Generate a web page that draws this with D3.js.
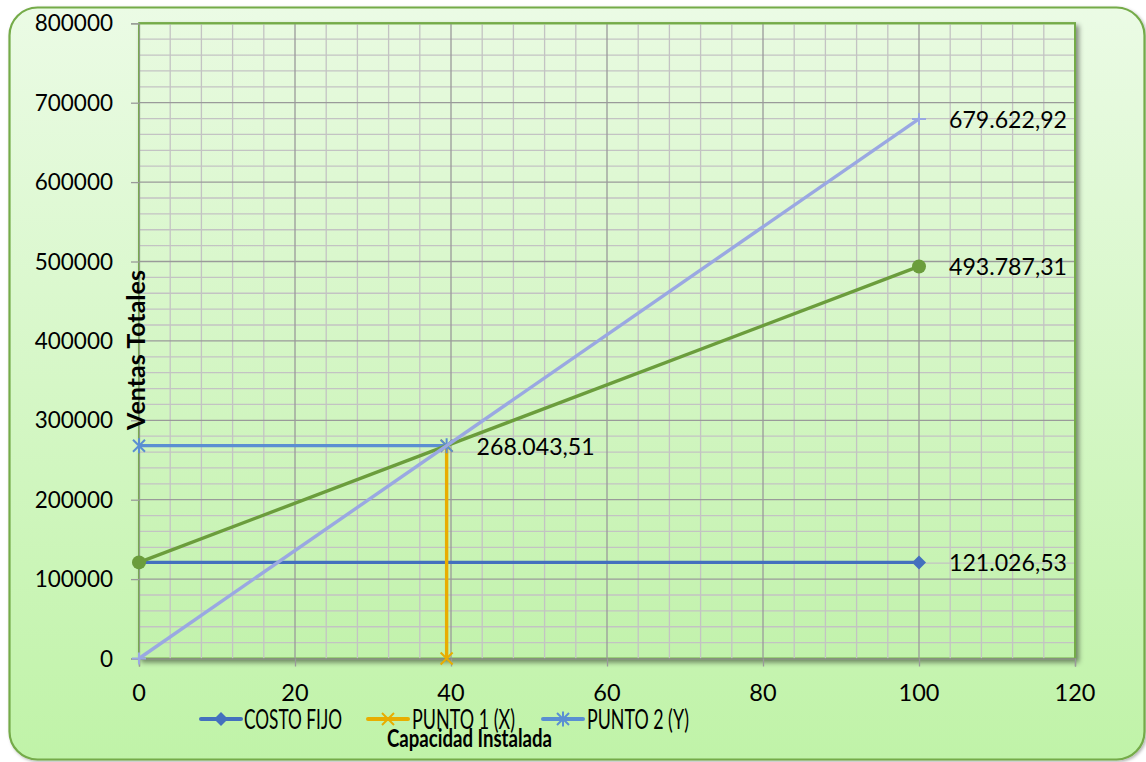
<!DOCTYPE html>
<html>
<head>
<meta charset="utf-8">
<script src="https://cdn.jsdelivr.net/npm/d3@7/dist/d3.min.js"></script>
<style>
  html, body { margin: 0; padding: 0; background: #ffffff; }
  svg { display: block; }
  text { font-family: Lato, "Open Sans", "Noto Sans", sans-serif; fill: #000; }
</style>
</head>
<body>
<svg id="chart" width="1146" height="762"></svg>
<script>
// ---- data ----
const xTicks = [0, 20, 40, 60, 80, 100, 120];
const yTicks = [0, 100000, 200000, 300000, 400000, 500000, 600000, 700000, 800000];

// break-even point (capacity, sales)
const breakEvenX = 39.44;
const breakEvenY = 268043.51;

const costoFijoX = [0, 100];
const costoFijoY = [121026.53, 121026.53];

const punto1X = [breakEvenX, breakEvenX];
const punto1Y = [0, breakEvenY];

const punto2X = [0, breakEvenX];
const punto2Y = [breakEvenY, breakEvenY];

const costoTotalX = [0, 100];
const costoTotalY = [121026.53, 493787.31];

const ventasX = [0, 100];
const ventasY = [0, 679622.92];

const legendNames = ["COSTO FIJO", "PUNTO 1 (X)", "PUNTO 2 (Y)"];
const xTitle = "Capacidad Instalada";
const yTitle = "Ventas Totales";

// ---- setup ----
const svg = d3.select("#chart");
const W = 1146, H = 762;
const plot = { left: 139, right: 1075, top: 23.3, bottom: 658.5 };

const x = d3.scaleLinear().domain([0, 120]).range([plot.left, plot.right]);
const y = d3.scaleLinear().domain([0, 800000]).range([plot.bottom, plot.top]);

const es = d3.formatLocale({ decimal: ",", thousands: ".", grouping: [3], currency: ["", ""] });
const fmtLabel = es.format(",.2f");

const defs = svg.append("defs");
const bgGrad = defs.append("linearGradient").attr("id", "bgGrad")
  .attr("x1", 0).attr("y1", 0).attr("x2", 0).attr("y2", 1);
bgGrad.append("stop").attr("offset", "0%").attr("stop-color", "#ebfbe5");
bgGrad.append("stop").attr("offset", "100%").attr("stop-color", "#c0f3a8");

const plotGrad = defs.append("linearGradient").attr("id", "plotGrad")
  .attr("x1", 0).attr("y1", 0).attr("x2", 0).attr("y2", 1);
plotGrad.append("stop").attr("offset", "0%").attr("stop-color", "#e8fae0");
plotGrad.append("stop").attr("offset", "100%").attr("stop-color", "#c2f2ac");

const shadow = defs.append("filter").attr("id", "shadow")
  .attr("x", "-5%").attr("y", "-5%").attr("width", "110%").attr("height", "110%");
shadow.append("feDropShadow").attr("dx", 3).attr("dy", 3).attr("stdDeviation", 2.5)
  .attr("flood-color", "#000").attr("flood-opacity", 0.45);

const outerShadow = defs.append("filter").attr("id", "outerShadow")
  .attr("x", "-2%").attr("y", "-2%").attr("width", "104%").attr("height", "104%");
outerShadow.append("feDropShadow").attr("dx", 1.5).attr("dy", 1.5).attr("stdDeviation", 1.5)
  .attr("flood-color", "#000").attr("flood-opacity", 0.3);

// ---- chart background ----
svg.append("rect")
  .attr("x", 9.5).attr("y", 7.5).attr("width", 1135).attr("height", 752)
  .attr("rx", 28).attr("ry", 28)
  .attr("fill", "url(#bgGrad)").attr("stroke", "#74ab48").attr("stroke-width", 2.2)
  .attr("filter", "url(#outerShadow)");

// ---- plot area ----
svg.append("rect")
  .attr("x", plot.left).attr("y", plot.top)
  .attr("width", plot.right - plot.left).attr("height", plot.bottom - plot.top)
  .attr("fill", "url(#plotGrad)").attr("stroke", "#74ab48").attr("stroke-width", 2)
  .attr("filter", "url(#shadow)");

// minor gridlines
const xMinor = d3.range(0, 121, 4).filter(v => v % 20 !== 0);
const yMinor = d3.range(0, 800001, 20000).filter(v => v % 100000 !== 0);
const grid = svg.append("g");
grid.selectAll(".vminor").data(xMinor).join("line")
  .attr("x1", d => x(d)).attr("x2", d => x(d))
  .attr("y1", plot.top).attr("y2", plot.bottom)
  .attr("stroke", "#c3c3c3").attr("stroke-width", 1.3);
grid.selectAll(".hminor").data(yMinor).join("line")
  .attr("x1", plot.left).attr("x2", plot.right)
  .attr("y1", d => y(d)).attr("y2", d => y(d))
  .attr("stroke", "#c3c3c3").attr("stroke-width", 1.3);
// major gridlines
grid.selectAll(".vmajor").data(xTicks.slice(1, -1)).join("line")
  .attr("x1", d => x(d)).attr("x2", d => x(d))
  .attr("y1", plot.top).attr("y2", plot.bottom)
  .attr("stroke", "#9a9a9a").attr("stroke-width", 1.3);
grid.selectAll(".hmajor").data(yTicks.slice(1, -1)).join("line")
  .attr("x1", plot.left).attr("x2", plot.right)
  .attr("y1", d => y(d)).attr("y2", d => y(d))
  .attr("stroke", "#9a9a9a").attr("stroke-width", 1.3);

// top / right border in green again over grid
svg.append("path")
  .attr("d", `M${plot.left},${plot.top}H${plot.right}V${plot.bottom}`)
  .attr("fill", "none").attr("stroke", "#74ab48").attr("stroke-width", 2);

// ---- axes ----
const xAxis = d3.axisBottom(x).tickValues(xTicks).tickSize(8).tickFormat("");
const gx = svg.append("g").attr("transform", `translate(0,${plot.bottom})`).call(xAxis);
gx.select(".domain").attr("stroke", "#8a8a8a").attr("stroke-width", 1.3);
gx.selectAll(".tick line").attr("stroke", "#9a9a9a").attr("stroke-width", 1.3);

const yAxis = d3.axisLeft(y).tickValues(yTicks).tickSize(8).tickFormat("");
const gy = svg.append("g").attr("transform", `translate(${plot.left},0)`).call(yAxis);
gy.select(".domain").attr("stroke", "#8e9e86").attr("stroke-width", 1.3);
gy.selectAll(".tick line").attr("stroke", "#9a9a9a").attr("stroke-width", 1.3);

// tick labels
svg.append("g").selectAll("text").data(yTicks).join("text")
  .attr("x", 113).attr("y", d => y(d) + 8)
  .attr("text-anchor", "end").attr("font-size", 22.5)
  .text(d => d3.format("d")(d));

svg.append("g").selectAll("text").data(xTicks).join("text")
  .attr("x", d => x(d)).attr("y", 701)
  .attr("text-anchor", "middle").attr("font-size", 23.5)
  .text(d => d3.format("d")(d));

// ---- series ----
const line = d3.line().x(d => x(d[0])).y(d => y(d[1]));
const zip = (xs, ys) => xs.map((v, i) => [v, ys[i]]);

const colors = {
  costoFijo: "#4470be",
  punto1: "#e8ad00",
  punto2: "#5a8fd2",
  costoTotal: "#6b9d3c",
  ventas: "#9aa8e2"
};

// marker shapes
function diamond(g, c) {
  g.append("path").attr("d", "M0,-7L7,0L0,7L-7,0Z").attr("fill", c);
}
function circle(g, c) {
  g.append("circle").attr("r", 7).attr("fill", c);
}
function xMark(g, c) {
  g.append("path").attr("d", "M-6,-6L6,6M-6,6L6,-6").attr("stroke", c).attr("stroke-width", 2).attr("fill", "none");
}
function star(g, c) {
  g.append("path").attr("d", "M-6,-6L6,6M-6,6L6,-6M0,-7.5V7.5").attr("stroke", c).attr("stroke-width", 2).attr("fill", "none");
}
function plus(g, c) {
  g.append("path").attr("d", "M-7,0H7M0,-6V6").attr("stroke", c).attr("stroke-width", 2).attr("fill", "none");
}

function drawSeries(xs, ys, color, marker) {
  const pts = zip(xs, ys);
  const g = svg.append("g");
  g.append("path").datum(pts).attr("d", line)
    .attr("fill", "none").attr("stroke", color).attr("stroke-width", 3.4);
  pts.forEach(p => {
    const m = g.append("g").attr("transform", `translate(${x(p[0])},${y(p[1])})`);
    marker(m, color);
  });
  return pts;
}

const cfPts = drawSeries(costoFijoX, costoFijoY, colors.costoFijo, diamond);
drawSeries(punto1X, punto1Y, colors.punto1, xMark);
const p2Pts = drawSeries(punto2X, punto2Y, colors.punto2, star);
const ctPts = drawSeries(costoTotalX, costoTotalY, colors.costoTotal, circle);
const vPts = drawSeries(ventasX, ventasY, colors.ventas, plus);

// ---- data labels ----
const labelPts = [vPts[1], ctPts[1], cfPts[1], p2Pts[1]];
svg.append("g").selectAll("text").data(labelPts).join("text")
  .attr("x", d => x(d[0]) + 30).attr("y", d => y(d[1]) + 9)
  .attr("font-size", 23)
  .attr("textLength", 118).attr("lengthAdjust", "spacingAndGlyphs")
  .text(d => fmtLabel(d[1]));

// ---- legend ----
const legendItems = [
  { name: legendNames[0], color: colors.costoFijo, marker: diamond, x0: 201, tx: 244, tw: 98 },
  { name: legendNames[1], color: colors.punto1, marker: xMark, x0: 368, tx: 412, tw: 103 },
  { name: legendNames[2], color: colors.punto2, marker: star, x0: 543, tx: 587, tw: 102 }
];
const lg = svg.append("g");
legendItems.forEach(it => {
  lg.append("line").attr("x1", it.x0).attr("x2", it.x0 + 40)
    .attr("y1", 719).attr("y2", 719)
    .attr("stroke", it.color).attr("stroke-width", 4).attr("stroke-linecap", "round");
  const m = lg.append("g").attr("transform", `translate(${it.x0 + 20},719)`);
  it.marker(m, it.color);
  lg.append("text").attr("x", it.tx).attr("y", 728.5)
    .attr("font-size", 26)
    .attr("textLength", it.tw).attr("lengthAdjust", "spacingAndGlyphs")
    .text(it.name);
});

// ---- axis titles ----
svg.append("text")
  .attr("x", 387).attr("y", 747)
  .attr("font-size", 24).attr("font-weight", "bold")
  .attr("textLength", 165).attr("lengthAdjust", "spacingAndGlyphs")
  .text(xTitle);

svg.append("text")
  .attr("transform", "translate(145,430) rotate(-90)")
  .attr("x", 0).attr("y", 0)
  .attr("font-size", 24).attr("font-weight", "bold")
  .attr("textLength", 160).attr("lengthAdjust", "spacingAndGlyphs")
  .text(yTitle);
</script>
</body>
</html>
